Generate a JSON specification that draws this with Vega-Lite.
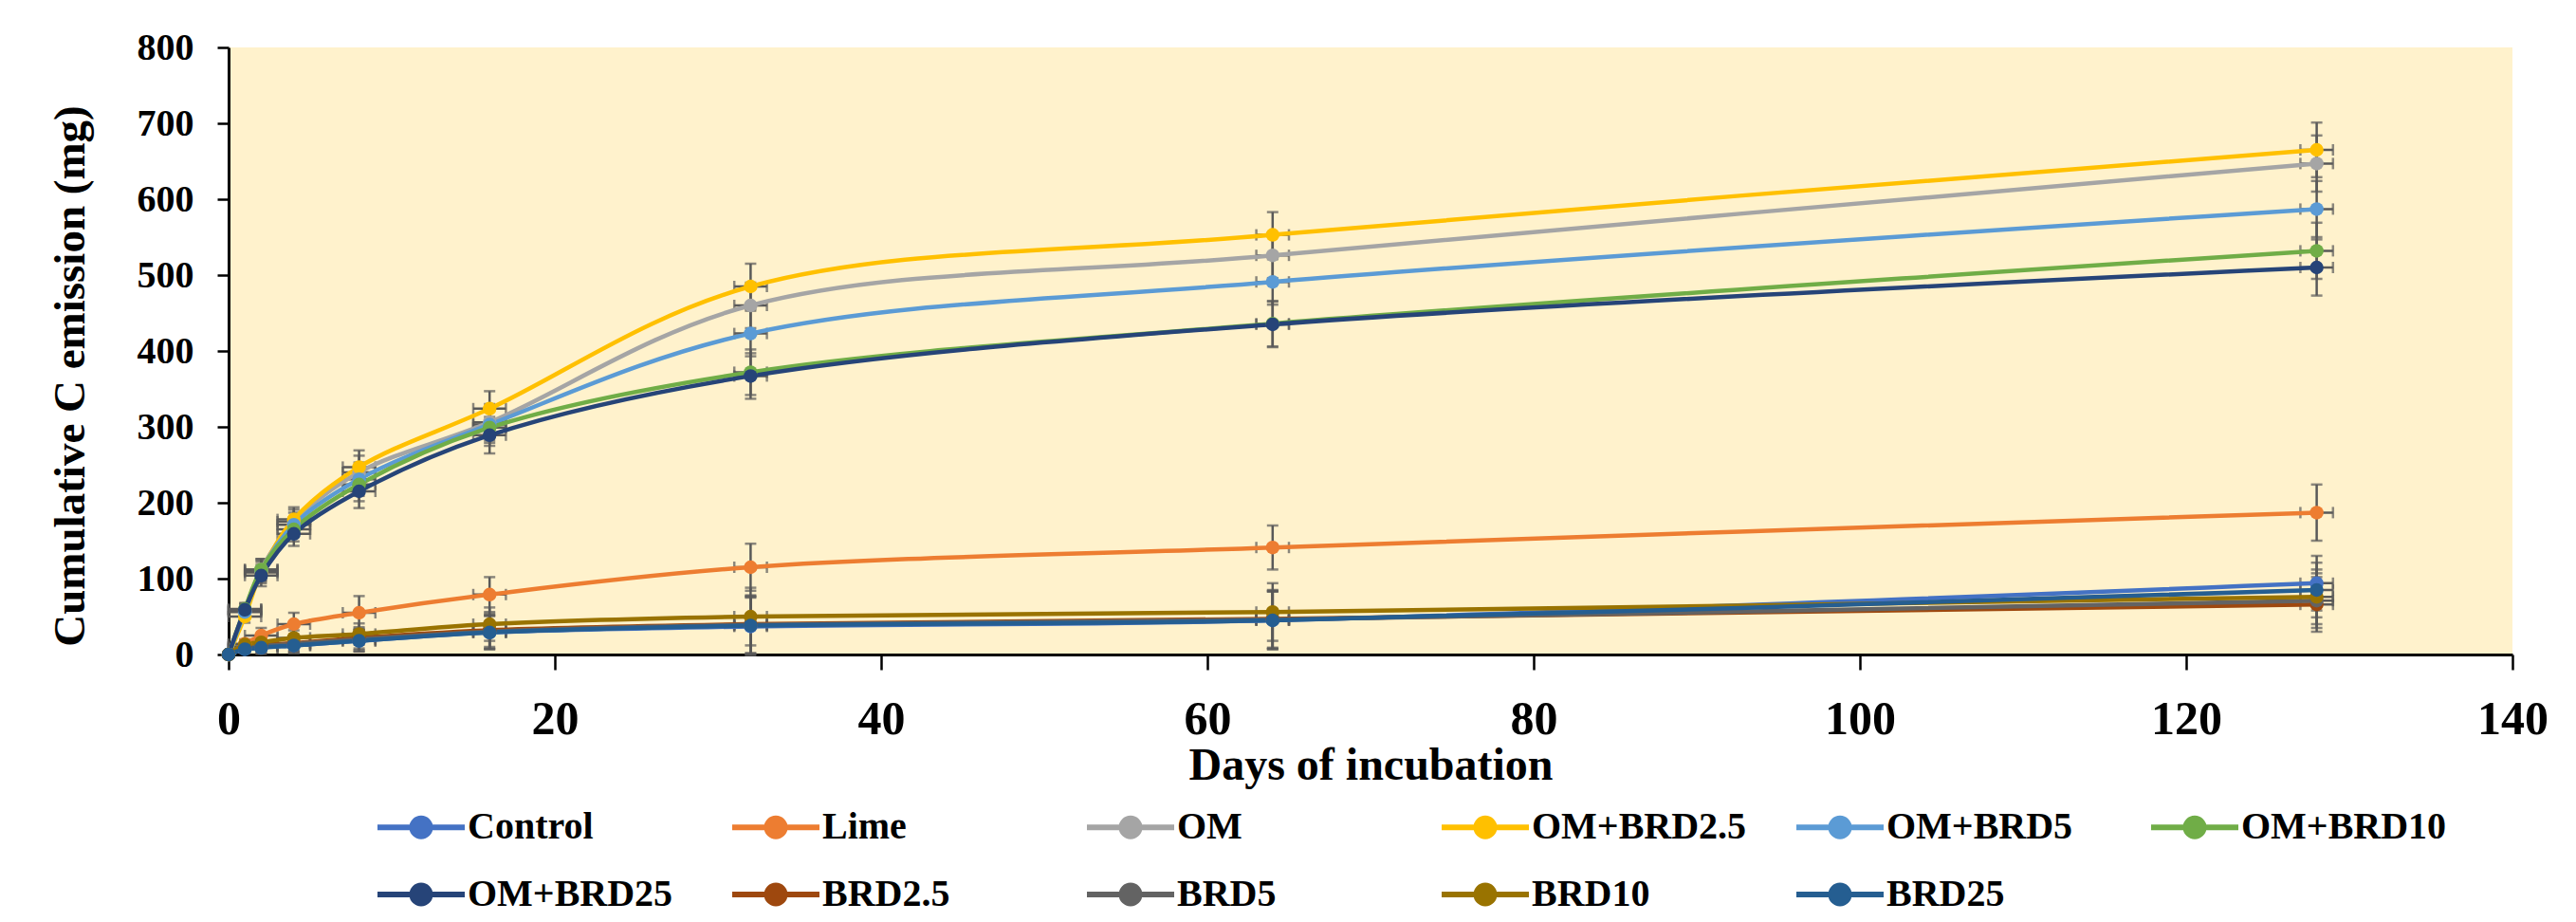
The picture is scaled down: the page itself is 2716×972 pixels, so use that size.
{
  "$schema": "https://vega.github.io/schema/vega-lite/v6.json",
  "autosize": {"type": "none"},
  "padding": {"left": 241, "top": 50, "right": 67, "bottom": 282},
  "width": 2408,
  "height": 640,
  "background": "white",
  "config": {
    "font": "Liberation Serif",
    "view": {"fill": "#FFF2CC", "stroke": null},
    "axis": {"labelFont": "Liberation Serif", "labelFontWeight": "bold", "labelColor": "black", "titleFont": "Liberation Serif", "titleFontWeight": "bold", "titleColor": "black", "domainColor": "black", "tickColor": "black", "grid": false}
  },
  "data": {"values": [
    {"s": "Control", "d": 0, "v": 0, "e": 0, "xe": 0},
    {"s": "Control", "d": 1, "v": 7, "e": 5, "xe": 1},
    {"s": "Control", "d": 2, "v": 9, "e": 8, "xe": 1},
    {"s": "Control", "d": 4, "v": 12, "e": 10, "xe": 1},
    {"s": "Control", "d": 8, "v": 18, "e": 14, "xe": 1},
    {"s": "Control", "d": 16, "v": 29, "e": 22, "xe": 1},
    {"s": "Control", "d": 32, "v": 37, "e": 38, "xe": 1},
    {"s": "Control", "d": 64, "v": 45, "e": 38, "xe": 1},
    {"s": "Control", "d": 128, "v": 94, "e": 36, "xe": 1},
    {"s": "Lime", "d": 0, "v": 0, "e": 0, "xe": 0},
    {"s": "Lime", "d": 1, "v": 14, "e": 6, "xe": 1},
    {"s": "Lime", "d": 2, "v": 25, "e": 10, "xe": 1},
    {"s": "Lime", "d": 4, "v": 40, "e": 15, "xe": 1},
    {"s": "Lime", "d": 8, "v": 55, "e": 22, "xe": 1},
    {"s": "Lime", "d": 16, "v": 79, "e": 23, "xe": 1},
    {"s": "Lime", "d": 32, "v": 115, "e": 31, "xe": 1},
    {"s": "Lime", "d": 64, "v": 141, "e": 29, "xe": 1},
    {"s": "Lime", "d": 128, "v": 187, "e": 37, "xe": 1},
    {"s": "OM", "d": 0, "v": 0, "e": 0, "xe": 0},
    {"s": "OM", "d": 1, "v": 58, "e": 8, "xe": 1},
    {"s": "OM", "d": 2, "v": 112, "e": 14, "xe": 1},
    {"s": "OM", "d": 4, "v": 175, "e": 16, "xe": 1},
    {"s": "OM", "d": 8, "v": 240, "e": 22, "xe": 1},
    {"s": "OM", "d": 16, "v": 306, "e": 24, "xe": 1},
    {"s": "OM", "d": 32, "v": 460, "e": 30, "xe": 1},
    {"s": "OM", "d": 64, "v": 526, "e": 30, "xe": 1},
    {"s": "OM", "d": 128, "v": 647, "e": 37, "xe": 1},
    {"s": "OM+BRD2.5", "d": 0, "v": 0, "e": 0, "xe": 0},
    {"s": "OM+BRD2.5", "d": 1, "v": 50, "e": 8, "xe": 1},
    {"s": "OM+BRD2.5", "d": 2, "v": 108, "e": 14, "xe": 1},
    {"s": "OM+BRD2.5", "d": 4, "v": 178, "e": 16, "xe": 1},
    {"s": "OM+BRD2.5", "d": 8, "v": 247, "e": 22, "xe": 1},
    {"s": "OM+BRD2.5", "d": 16, "v": 324, "e": 23, "xe": 1},
    {"s": "OM+BRD2.5", "d": 32, "v": 485, "e": 30, "xe": 1},
    {"s": "OM+BRD2.5", "d": 64, "v": 553, "e": 30, "xe": 1},
    {"s": "OM+BRD2.5", "d": 128, "v": 665, "e": 36, "xe": 1},
    {"s": "OM+BRD5", "d": 0, "v": 0, "e": 0, "xe": 0},
    {"s": "OM+BRD5", "d": 1, "v": 56, "e": 8, "xe": 1},
    {"s": "OM+BRD5", "d": 2, "v": 110, "e": 14, "xe": 1},
    {"s": "OM+BRD5", "d": 4, "v": 171, "e": 16, "xe": 1},
    {"s": "OM+BRD5", "d": 8, "v": 231, "e": 22, "xe": 1},
    {"s": "OM+BRD5", "d": 16, "v": 303, "e": 24, "xe": 1},
    {"s": "OM+BRD5", "d": 32, "v": 423, "e": 30, "xe": 1},
    {"s": "OM+BRD5", "d": 64, "v": 491, "e": 30, "xe": 1},
    {"s": "OM+BRD5", "d": 128, "v": 587, "e": 37, "xe": 1},
    {"s": "OM+BRD10", "d": 0, "v": 0, "e": 0, "xe": 0},
    {"s": "OM+BRD10", "d": 1, "v": 60, "e": 8, "xe": 1},
    {"s": "OM+BRD10", "d": 2, "v": 112, "e": 14, "xe": 1},
    {"s": "OM+BRD10", "d": 4, "v": 165, "e": 16, "xe": 1},
    {"s": "OM+BRD10", "d": 8, "v": 224, "e": 22, "xe": 1},
    {"s": "OM+BRD10", "d": 16, "v": 299, "e": 24, "xe": 1},
    {"s": "OM+BRD10", "d": 32, "v": 372, "e": 30, "xe": 1},
    {"s": "OM+BRD10", "d": 64, "v": 436, "e": 30, "xe": 1},
    {"s": "OM+BRD10", "d": 128, "v": 532, "e": 37, "xe": 1},
    {"s": "OM+BRD25", "d": 0, "v": 0, "e": 0, "xe": 0},
    {"s": "OM+BRD25", "d": 1, "v": 59, "e": 8, "xe": 1},
    {"s": "OM+BRD25", "d": 2, "v": 104, "e": 14, "xe": 1},
    {"s": "OM+BRD25", "d": 4, "v": 159, "e": 16, "xe": 1},
    {"s": "OM+BRD25", "d": 8, "v": 215, "e": 22, "xe": 1},
    {"s": "OM+BRD25", "d": 16, "v": 289, "e": 24, "xe": 1},
    {"s": "OM+BRD25", "d": 32, "v": 367, "e": 30, "xe": 1},
    {"s": "OM+BRD25", "d": 64, "v": 435, "e": 30, "xe": 1},
    {"s": "OM+BRD25", "d": 128, "v": 510, "e": 37, "xe": 1},
    {"s": "BRD2.5", "d": 0, "v": 0, "e": 0, "xe": 0},
    {"s": "BRD2.5", "d": 1, "v": 10, "e": 5, "xe": 1},
    {"s": "BRD2.5", "d": 2, "v": 12, "e": 8, "xe": 1},
    {"s": "BRD2.5", "d": 4, "v": 15, "e": 10, "xe": 1},
    {"s": "BRD2.5", "d": 8, "v": 22, "e": 14, "xe": 1},
    {"s": "BRD2.5", "d": 16, "v": 32, "e": 22, "xe": 1},
    {"s": "BRD2.5", "d": 32, "v": 40, "e": 38, "xe": 1},
    {"s": "BRD2.5", "d": 64, "v": 47, "e": 38, "xe": 1},
    {"s": "BRD2.5", "d": 128, "v": 66, "e": 36, "xe": 1},
    {"s": "BRD5", "d": 0, "v": 0, "e": 0, "xe": 0},
    {"s": "BRD5", "d": 1, "v": 9, "e": 5, "xe": 1},
    {"s": "BRD5", "d": 2, "v": 11, "e": 8, "xe": 1},
    {"s": "BRD5", "d": 4, "v": 14, "e": 10, "xe": 1},
    {"s": "BRD5", "d": 8, "v": 20, "e": 14, "xe": 1},
    {"s": "BRD5", "d": 16, "v": 30, "e": 22, "xe": 1},
    {"s": "BRD5", "d": 32, "v": 39, "e": 38, "xe": 1},
    {"s": "BRD5", "d": 64, "v": 46, "e": 38, "xe": 1},
    {"s": "BRD5", "d": 128, "v": 71, "e": 36, "xe": 1},
    {"s": "BRD10", "d": 0, "v": 0, "e": 0, "xe": 0},
    {"s": "BRD10", "d": 1, "v": 13, "e": 5, "xe": 1},
    {"s": "BRD10", "d": 2, "v": 16, "e": 8, "xe": 1},
    {"s": "BRD10", "d": 4, "v": 22, "e": 10, "xe": 1},
    {"s": "BRD10", "d": 8, "v": 27, "e": 14, "xe": 1},
    {"s": "BRD10", "d": 16, "v": 40, "e": 22, "xe": 1},
    {"s": "BRD10", "d": 32, "v": 50, "e": 38, "xe": 1},
    {"s": "BRD10", "d": 64, "v": 56, "e": 38, "xe": 1},
    {"s": "BRD10", "d": 128, "v": 76, "e": 36, "xe": 1},
    {"s": "BRD25", "d": 0, "v": 0, "e": 0, "xe": 0},
    {"s": "BRD25", "d": 1, "v": 7, "e": 5, "xe": 1},
    {"s": "BRD25", "d": 2, "v": 9, "e": 8, "xe": 1},
    {"s": "BRD25", "d": 4, "v": 12, "e": 10, "xe": 1},
    {"s": "BRD25", "d": 8, "v": 18, "e": 14, "xe": 1},
    {"s": "BRD25", "d": 16, "v": 29, "e": 22, "xe": 1},
    {"s": "BRD25", "d": 32, "v": 38, "e": 38, "xe": 1},
    {"s": "BRD25", "d": 64, "v": 45, "e": 38, "xe": 1},
    {"s": "BRD25", "d": 128, "v": 85, "e": 36, "xe": 1}
  ]},
  "encoding": {
    "x": {"field": "d", "type": "quantitative",
      "scale": {"domain": [0, 140], "nice": false, "zero": true},
      "axis": {"values": [0, 20, 40, 60, 80, 100, 120, 140], "title": "Days of incubation", "titleFontSize": 48, "titlePadding": 0, "labelFontSize": 50, "labelPadding": 27, "tickSize": 16, "tickWidth": 2.5, "domainWidth": 3, "labelFlush": false}},
    "y": {"field": "v", "type": "quantitative",
      "scale": {"domain": [0, 800], "nice": false},
      "axis": {"values": [0, 100, 200, 300, 400, 500, 600, 700, 800], "title": "Cumulative C emission (mg)", "titleFontSize": 47, "titlePadding": 46, "titleY": 346, "labelFontSize": 40, "labelPadding": 25, "tickSize": 12, "tickWidth": 2.5, "domainWidth": 3, "labelFlush": false}}
  },
  "layer": [
    {
      "mark": {"type": "errorbar", "color": "#595959", "ticks": {"size": 12, "thickness": 2.5}, "rule": {"strokeWidth": 2.5}},
      "encoding": {"yError": {"field": "e"}}
    },
    {
      "mark": {"type": "errorbar", "color": "#595959", "ticks": {"size": 12, "thickness": 2.5}, "rule": {"strokeWidth": 2.5}},
      "encoding": {"xError": {"field": "xe"}}
    },
    {
      "mark": {"type": "line", "interpolate": "catmull-rom", "strokeWidth": 4.5},
      "encoding": {
        "color": {"field": "s", "type": "nominal",
          "scale": {"domain": ["Control", "Lime", "OM", "OM+BRD2.5", "OM+BRD5", "OM+BRD10", "OM+BRD25", "BRD2.5", "BRD5", "BRD10", "BRD25"],
                    "range": ["#4472C4", "#ED7D31", "#A5A5A5", "#FFC000", "#5B9BD5", "#70AD47", "#264478", "#9E480E", "#636363", "#997300", "#255E91"]},
          "legend": {"orient": "none", "legendX": 154, "legendY": 773, "direction": "horizontal", "columns": 6, "gridAlign": "all",
            "title": null, "padding": 0, "labelFont": "Liberation Serif", "labelFontWeight": "bold", "labelFontSize": 40, "labelColor": "black", "labelLimit": 0,
            "labelOffset": 0, "columnPadding": 40, "rowPadding": -24,
            "symbolType": "M-1,0L1,0M-0.2065,0A0.2065,0.2065,0,1,1,0.2065,0A0.2065,0.2065,0,1,1,-0.2065,0M-0.087,0A0.087,0.087,0,1,1,0.087,0A0.087,0.087,0,1,1,-0.087,0M-0.022,0A0.022,0.022,0,1,1,0.022,0A0.022,0.022,0,1,1,-0.022,0",
            "symbolSize": 8464, "symbolStrokeWidth": 6, "symbolOpacity": 1}}
      }
    },
    {
      "mark": {"type": "point", "filled": true, "size": 210, "opacity": 1, "strokeWidth": 0},
      "encoding": {
        "color": {"field": "s", "type": "nominal", "legend": null}
      }
    }
  ]
}
